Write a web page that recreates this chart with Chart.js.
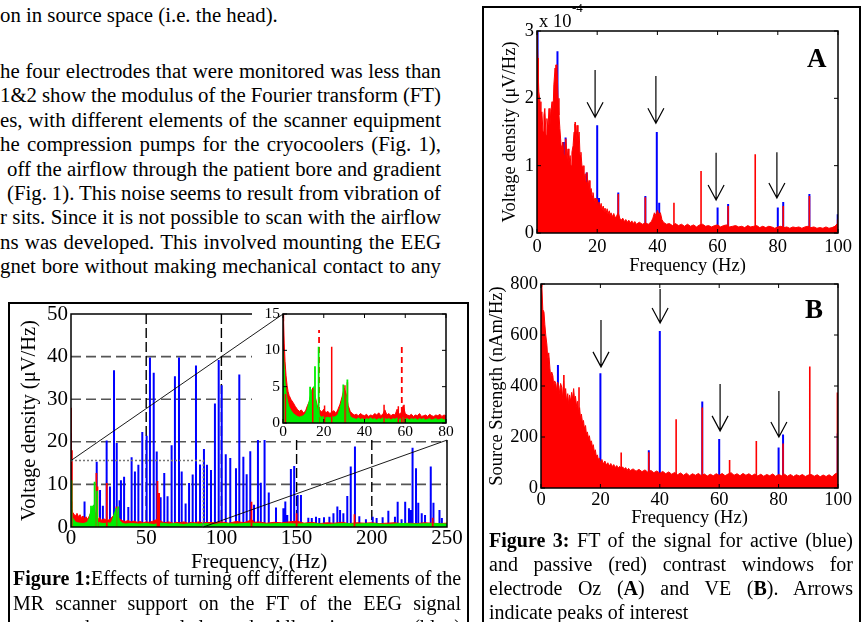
<!DOCTYPE html>
<html><head><meta charset="utf-8">
<script src="https://cdn.jsdelivr.net/npm/chart.js@4.4.1/dist/chart.umd.min.js"></script>
<style>
html,body{margin:0;padding:0;background:#fff;}
body{width:867px;height:622px;overflow:hidden;position:relative;font-family:'Liberation Serif','Times New Roman',serif;color:#000;}
.ln{position:absolute;white-space:nowrap;}
.body{font-size:20.8px;line-height:24px;}
.cap{font-size:20px;line-height:24px;}
canvas{position:absolute;}
.box{position:absolute;border:2px solid #000;box-sizing:border-box;background:#fff;}
</style></head><body>

<div class="ln body" style="top:3px;left:0">on in source space (i.e. the head).</div>
<div class="ln body j" data-w="441" style="top:59px;left:0"><span>he four electrodes that were monitored was less than</span></div>
<div class="ln body j" data-w="441" style="top:83px;left:0"><span>1&amp;2 show the modulus of the Fourier transform (FT)</span></div>
<div class="ln body j" data-w="441" style="top:108px;left:0"><span>es, with different elements of the scanner equipment</span></div>
<div class="ln body j" data-w="441" style="top:132px;left:0"><span>he compression pumps for the cryocoolers (Fig. 1),</span></div>
<div class="ln body j" data-w="434" style="top:157px;left:7px"><span>off the airflow through the patient bore and gradient</span></div>
<div class="ln body j" data-w="434" style="top:181px;left:7px"><span>(Fig. 1). This noise seems to result from vibration of</span></div>
<div class="ln body j" data-w="441" style="top:205px;left:0"><span>r sits. Since it is not possible to scan with the airflow</span></div>
<div class="ln body j" data-w="441" style="top:230px;left:0"><span>ns was developed. This involved mounting the EEG</span></div>
<div class="ln body j" data-w="441" style="top:254px;left:0"><span>gnet bore without making mechanical contact to any</span></div>

<div class="box" style="left:8px;top:302px;width:461px;height:340px;"></div>
<div class="box" style="left:482px;top:6px;width:379px;height:640px;"></div>

<canvas id="c1" width="456" height="274" style="left:10px;top:300px"></canvas>
<canvas id="c2" width="208" height="136" style="left:252px;top:304px"></canvas>
<canvas id="c3" width="372" height="270" style="left:486px;top:6px"></canvas>
<canvas id="c4" width="372" height="256" style="left:486px;top:274px"></canvas>

<div class="ln" style="left:539px;top:11px;font-size:18.5px;line-height:20px;">x 10</div>
<div class="ln" style="left:572px;top:1px;font-size:13px;line-height:14px;">-4</div>
<div class="ln" style="left:807px;top:44px;font-size:27px;line-height:28px;font-weight:bold;">A</div>
<div class="ln" style="left:805px;top:295px;font-size:27px;line-height:28px;font-weight:bold;">B</div>

<div class="ln cap j" data-w="448" style="top:566px;left:13px"><span><b>Figure 1:</b>Effects of turning off different elements of the</span></div>
<div class="ln cap j" data-w="448" style="top:591px;left:13px"><span>MR scanner support on the FT of the EEG signal</span></div>
<div class="ln cap j" data-w="448" style="top:615px;left:13px"><span>measured on a central electrode. All equipment on (blue)</span></div>

<div class="ln cap j" data-w="364" style="top:528px;left:489px"><span><b>Figure 3:</b> FT of the signal for active (blue)</span></div>
<div class="ln cap j" data-w="364" style="top:552px;left:489px"><span>and passive (red) contrast windows for</span></div>
<div class="ln cap j" data-w="364" style="top:576px;left:489px"><span>electrode Oz (<b>A</b>) and VE (<b>B</b>). Arrows</span></div>
<div class="ln cap" style="top:600px;left:489px">indicate peaks of interest</div>

<script>
// ---------------- DATA ----------------
// Figure 1 main panel (Hz, µV/Hz)
const fig1XTicks = [0, 50, 100, 150, 200, 250];
const fig1YTicks = [0, 10, 20, 30, 40, 50];
const fig1BlueSpikes = [[0,22],[9,6.0],[17.1,15.3],[19.3,8.7],[21.2,5.0],[23.7,20.3],[25.9,9.5],[28.6,36.8],[30.4,19.7],[32.3,6.3],[33.2,11.0],[35.3,11.8],[38.1,4.7],[40.3,16.4],[42.5,13.0],[44.8,14.6],[47.4,22.3],[50.3,21.4],[52.5,39.8],[55.0,36.2],[57.0,17.7],[59.6,7.0],[62.0,12.7],[64.2,7.2],[66.9,19.2],[69.1,35.4],[71.8,39.8],[73.6,13.0],[76.2,5.5],[78.5,10.3],[80.9,12.3],[83.1,37.9],[85.8,14.7],[88.4,18.3],[90.4,14.6],[93.1,13.4],[95.7,29.0],[98.2,39.2],[100.2,33.3],[102.9,17.1],[105.9,16.2],[109.7,13.8],[111.9,35.8],[114.6,16.5],[116.8,12.4],[119.2,17.8],[121.7,5.2],[124.3,20.6],[126.2,10.4],[128.7,20.6],[131.5,8.1],[136.3,4.6],[141.2,4.4],[142.5,6.0],[143.8,2.8],[146.2,13.6],[148.4,14.3],[150.7,7.5],[152.9,7.5],[157.8,2.2],[160.1,2.1],[162.9,2.4],[165.1,2.1],[168.2,2.3],[171.8,2.4],[174.5,3.2],[177.1,4.8],[178.9,4.0],[181.1,3.2],[183.7,7.3],[186.0,14.2],[188.8,18.9],[191.7,2.5],[196.1,1.8],[200.6,2.4],[203.2,2.1],[207.2,2.3],[211.0,3.8],[215.4,2.4],[217.2,5.9],[219.8,1.8],[222.2,5.9],[224.7,4.4],[225.8,4.0],[227.1,18.6],[229.4,13.8],[230.9,5.7],[233.2,3.2],[235.4,2.8],[239.2,14.2],[241.0,5.7],[245.0,4.0],[246.6,2.1]];
const fig1RedSpikes = [[0,28],[0.6,18],[16.9,12.7],[17.6,9.5],[23.8,10.3],[30.2,4.8],[57.5,10.8],[58.6,8.0],[120,5.9],[150,3.2],[188.5,3.0],[240.5,2.2]];
const fig1GreenSpikes = [[0.3,11],[13.3,5.0],[15.7,10.6],[17.4,8.5],[29.8,4.4],[31.5,4.8]];
const fig1RedFloor = [[0,6],[0.5,4.5],[1,3.5],[2,3.0],[3,2.6],[4,3.2],[5,2.4],[6,2.9],[7,2.2],[8,2.6],[9,2.0],[10,2.4],[11,1.8],[12,2.5],[13,3.2],[14,3.8],[15,3.3],[16,2.6],[17,2.0],[18,1.8],[19,2.2],[20,1.6],[22,1.9],[24,1.5],[26,1.8],[28,2.6],[30,3.4],[32,2.0],[34,1.5],[36,1.3],[38,1.5],[40,1.2],[42,1.4],[44,1.1],[46,1.3],[48,1.0],[50,1.2],[52,1.1],[54,1.3],[56,1.6],[58,1.9],[60,1.3],[62,1.0],[65,1.2],[68,0.9],[70,1.1],[72,1.0],[75,1.2],[78,0.9],[80,1.1],[82,1.0],[85,1.2],[88,0.9],[90,1.1],[95,1.0],[100,1.2],[105,0.9],[110,1.3],[115,1.0],[118,1.4],[120,1.8],[122,1.1],[125,1.2],[130,0.9],[135,1.1],[140,1.0],[145,1.2],[150,1.4],[155,0.9],[160,1.1],[165,0.8],[170,1.0],[175,0.9],[180,1.1],[185,0.8],[190,1.0],[195,0.9],[200,1.0],[205,0.8],[210,0.9],[215,1.0],[220,0.8],[225,0.9],[230,0.8],[235,1.0],[240,0.9],[245,0.8],[250,0.9]];
const fig1GreenFloor = [[0,4],[0.5,3],[1,2.2],[2,1.6],[3,1.2],[4,1.0],[6,0.9],[8,0.8],[10,1.0],[11,1.3],[12,2.0],[13,3.5],[14,4.6],[15,5.2],[16,3.6],[17,1.8],[18,1.1],[20,0.9],[22,0.8],[24,1.0],[26,0.9],[27,1.2],[28,2.2],[29,3.4],[30,4.0],[31,3.2],[32,1.6],[34,0.9],[36,0.7],[40,0.8],[45,0.7],[50,0.8],[55,0.6],[60,0.9],[65,0.7],[70,0.8],[75,0.6],[80,0.8],[85,0.7],[90,0.8],[95,0.6],[100,0.8],[110,0.7],[120,0.9],[130,0.7],[140,0.8],[150,0.7],[160,0.8],[170,0.6],[180,0.8],[190,0.7],[200,0.8],[210,0.6],[220,0.8],[230,0.7],[240,0.8],[250,0.7]];
// zoom box and connector lines (data coords of main panel)
const fig1ZoomBox = [[0,0],[88,15.6]];
const fig1Connectors = [[[0,15.6],[141,50]],[[88,0],[250,20.4]]];

// Figure 1 inset (0-80 Hz)
const insetXTicks = [0, 20, 40, 60, 80];
const insetYTicks = [0, 5, 10, 15];
const insetRedFloor = [[0,15],[0.3,14],[0.6,11],[1,8.5],[1.5,6.5],[2,5.2],[2.5,4.3],[3,3.8],[4,3.2],[5,2.8],[6,2.3],[7,1.9],[8,1.6],[9,1.8],[10,1.4],[11,1.6],[12,2.4],[13,3.0],[14,4.2],[15,4.6],[16,3.4],[17,2.2],[18,1.8],[19,1.5],[20,1.9],[21,1.4],[22,1.6],[23,1.3],[24,1.5],[25,1.7],[26,1.3],[27,1.9],[28,2.6],[29,3.6],[30,4.8],[31,4.0],[32,2.4],[33,1.6],[34,1.3],[35,1.1],[36,1.2],[37,1.0],[38,1.3],[39,1.1],[40,1.0],[41,1.2],[42,0.9],[43,1.1],[44,1.0],[45,1.3],[46,1.1],[47,1.4],[48,1.0],[49,1.2],[50,1.8],[51,1.1],[52,1.3],[53,1.0],[54,1.2],[55,1.1],[56,1.9],[57,1.2],[58,1.4],[59,2.4],[60,1.3],[61,1.1],[62,1.0],[63,1.2],[64,0.9],[65,1.1],[66,1.0],[67,1.3],[68,0.9],[69,1.0],[70,1.1],[71,0.9],[72,1.2],[73,1.0],[74,0.9],[75,1.1],[76,1.0],[77,1.2],[78,0.9],[79,1.1],[80,1.0]];
const insetGreenFloor = [[0,10],[0.3,10],[0.6,7.5],[1,5.5],[1.5,4.2],[2,3.3],[2.5,2.7],[3,2.2],[4,1.7],[5,1.3],[6,1.1],[7,0.9],[8,0.8],[9,0.9],[10,1.0],[11,1.3],[12,1.9],[13,3.2],[14,4.5],[15,5.0],[16,3.2],[17,1.6],[18,1.0],[19,0.8],[20,0.9],[21,0.7],[22,0.8],[23,0.7],[24,0.9],[25,0.8],[26,0.9],[27,1.2],[28,2.0],[29,3.2],[30,4.2],[31,3.6],[32,1.8],[33,0.9],[34,0.7],[35,0.6],[36,0.5],[37,0.7],[38,0.5],[39,0.6],[40,0.4],[41,0.6],[42,0.5],[43,0.7],[44,0.5],[45,0.6],[46,0.4],[47,0.6],[48,0.5],[49,0.7],[50,0.6],[51,0.5],[52,0.6],[53,0.4],[54,0.6],[55,0.5],[56,0.7],[57,0.5],[58,0.6],[59,0.8],[60,0.5],[61,0.6],[62,0.4],[63,0.6],[64,0.5],[65,0.6],[66,0.4],[67,0.6],[68,0.5],[69,0.6],[70,0.4],[71,0.5],[72,0.6],[73,0.4],[74,0.5],[75,0.6],[76,0.4],[77,0.5],[78,0.6],[79,0.4],[80,0.5]];
const insetRedSpikes = [[1.2,4.0],[14.6,4.8],[20.4,2.4],[23.9,10.5],[30.4,5.2],[31.6,5.6],[49.6,2.5],[56.6,2.3],[59.4,2.5]];
const insetRedDashedSpikes = [[17.7,12.8],[58.3,10.7]];
const insetGreenSpikes = [[13.3,5.0],[15.7,7.8],[17.5,10.5],[29.6,5.3],[31.6,6.0]];

// Figure 3A (Oz electrode, units of 1e-4 µV/Hz)
const fig3aXTicks = [0, 20, 40, 60, 80, 100];
const fig3aYTicks = [0, 1, 2, 3];
const fig3aRedFloor = [[0,3.0],[0.3,3.0],[0.6,2.1],[1,1.95],[1.3,1.6],[1.6,1.8],[2,1.5],[2.3,1.75],[2.6,1.85],[3,1.45],[3.3,1.7],[3.6,1.55],[4,1.85],[4.3,1.6],[4.6,1.8],[5,1.95],[5.3,1.75],[5.6,2.2],[6,2.45],[6.3,2.3],[6.6,2.5],[7,2.0],[7.3,1.75],[7.6,1.55],[8,1.3],[8.3,1.2],[8.6,1.35],[9,1.15],[9.3,1.3],[9.6,1.4],[10,1.1],[10.3,1.25],[10.6,1.05],[11,1.15],[11.3,1.0],[11.6,1.2],[12,1.3],[12.3,1.5],[12.6,1.62],[13,1.4],[13.3,1.6],[13.6,1.35],[14,1.5],[14.3,1.15],[14.6,1.2],[15,0.95],[15.3,1.0],[15.6,0.8],[16,0.88],[16.3,0.75],[16.6,0.9],[17,0.7],[17.3,0.78],[17.6,0.62],[18,0.66],[18.3,0.55],[18.6,0.6],[19,0.48],[19.3,0.52],[19.6,0.44],[20,0.5],[20.3,0.4],[20.6,0.46],[21,0.38],[21.3,0.44],[21.6,0.35],[22,0.4],[22.3,0.32],[22.6,0.37],[23,0.3],[23.3,0.36],[23.6,0.28],[24,0.33],[24.3,0.26],[24.6,0.3],[25,0.24],[25.5,0.29],[26,0.22],[26.5,0.26],[27,0.3],[27.5,0.22],[28,0.19],[28.5,0.22],[29,0.17],[29.5,0.2],[30,0.16],[30.5,0.19],[31,0.15],[31.5,0.18],[32,0.14],[32.5,0.17],[33,0.13],[34,0.16],[35,0.13],[36,0.15],[37,0.13],[38,0.17],[38.5,0.22],[39,0.3],[39.5,0.26],[40,0.34],[40.5,0.28],[41,0.3],[41.5,0.2],[42,0.16],[43,0.13],[44,0.14],[45,0.11],[46,0.14],[47,0.11],[48,0.13],[49,0.1],[50,0.13],[51,0.1],[52,0.12],[53,0.09],[54,0.12],[55,0.13],[56,0.1],[57,0.11],[58,0.09],[59,0.11],[60,0.12],[61,0.09],[62,0.11],[63,0.12],[64,0.09],[65,0.1],[66,0.11],[67,0.09],[68,0.1],[69,0.08],[70,0.11],[71,0.09],[72,0.1],[73,0.11],[74,0.08],[75,0.1],[76,0.08],[77,0.1],[78,0.09],[79,0.07],[80,0.09],[81,0.1],[82,0.08],[83,0.09],[84,0.07],[85,0.09],[86,0.08],[87,0.09],[88,0.07],[89,0.09],[90,0.1],[91,0.08],[92,0.09],[93,0.07],[94,0.08],[95,0.07],[96,0.09],[97,0.07],[98,0.08],[99,0.1],[100,0.15]];
const fig3aRedSpikes = [[0,3.0],[0.4,2.6],[6.3,2.5],[12.7,1.65],[27,0.58],[36,0.53],[45.5,0.45],[54.5,0.92],[63.5,0.4],[72.5,1.17],[81.8,0.4],[90.5,0.55],[99.9,0.2]];
const fig3aBlueSpikes = [[0.2,3.0],[6.8,2.7],[8.8,1.35],[9.5,1.42],[16.5,0.9],[20,1.6],[20.6,0.52],[27,0.6],[36,0.55],[39.8,1.5],[40.6,0.45],[60,0.38],[63.5,0.43],[80,0.38],[81.8,0.46],[90.5,0.58],[99.9,0.28]];
const fig3aArrows = [[19.3,2.42,1.72],[39.5,2.33,1.63],[59.5,1.19,0.49],[79.7,1.20,0.52]];

// Figure 3B (virtual electrode, nAm/Hz)
const fig3bXTicks = [0, 20, 40, 60, 80, 100];
const fig3bYTicks = [0, 200, 400, 600, 800];
const fig3bRedFloor = [[0,800],[0.3,790],[0.6,700],[1,690],[1.3,640],[1.6,600],[2,560],[2.3,500],[2.6,530],[3,470],[3.3,430],[3.6,455],[4,440],[4.3,400],[4.6,420],[5,410],[5.3,380],[5.6,415],[6,400],[6.3,370],[6.6,410],[7,395],[7.3,350],[7.6,420],[8,360],[8.3,390],[8.6,340],[9,370],[9.3,330],[9.6,365],[10,340],[10.3,375],[10.6,350],[11,390],[11.3,345],[11.6,360],[12,320],[12.3,340],[12.6,300],[13,315],[13.3,275],[13.6,290],[14,255],[14.3,265],[14.6,235],[15,245],[15.3,210],[15.6,220],[16,195],[16.3,205],[16.6,180],[17,185],[17.3,160],[17.6,170],[18,140],[18.3,150],[18.6,125],[19,130],[19.3,110],[19.6,118],[20,100],[20.5,112],[21,94],[21.5,106],[22,90],[22.5,99],[23,86],[23.5,96],[24,84],[24.5,92],[25,80],[25.5,88],[26,78],[26.5,85],[27,76],[27.5,83],[28,74],[28.5,80],[29,70],[29.5,77],[30,68],[31,75],[32,66],[33,73],[34,64],[35,71],[36,62],[37,69],[38,60],[39,67],[40,58],[41,65],[42,56],[43,63],[44,54],[45,61],[46,52],[47,59],[48,50],[49,58],[50,48],[51,56],[52,50],[53,57],[54,48],[55,55],[56,47],[57,54],[58,48],[59,56],[60,50],[61,57],[62,48],[63,55],[64,60],[65,50],[66,56],[67,48],[68,57],[69,50],[70,56],[71,48],[72,55],[73,47],[74,54],[75,46],[76,53],[77,48],[78,55],[79,46],[80,53],[81,48],[82,54],[83,46],[84,53],[85,45],[86,52],[87,47],[88,53],[89,45],[90,51],[91,53],[92,46],[93,52],[94,44],[95,51],[96,45],[97,52],[98,44],[99,55],[100,60]];
const fig3bRedSpikes = [[0,800],[7.7,443],[12.8,395],[27,139],[36.3,140],[45.5,270],[54.3,316],[63.5,110],[72.5,184],[81.5,175],[90.5,476],[99.8,375]];
const fig3bBlueSpikes = [[2.4,510],[5.7,482],[20,450],[36.3,148],[40,616],[54.3,339],[60,192],[80,159],[81.5,210],[99.9,214]];
const fig3bArrows = [[20.2,659,475],[40.1,780,647],[60.3,408,224],[80.1,380,200]];

// ---------------- HELPERS ----------------
const SERIF = "'Liberation Serif','Times New Roman',serif";
const BLUE = '#0000ff', RED = '#ff0000', GREEN = '#00ee00';
Chart.defaults.font.family = SERIF;
Chart.defaults.color = '#000';

function pts(pairs){ return pairs.map(p => ({x:p[0], y:p[1]})); }
function spikes(pairs){ const o=[]; pairs.forEach(p => { o.push({x:p[0],y:0},{x:p[0],y:p[1]},{x:p[0],y:null}); }); return o; }
function fixAxis(size){ return function(s){ if (s.isHorizontal()) s.height = size; else s.width = size; s.paddingLeft=0; s.paddingRight=0; s.paddingTop=0; s.paddingBottom=0; }; }
function tickCb(list){ return function(scale){ scale.ticks = list.map(v => ({value:v})); }; }

function floorDs(pairs, color, order){ return {type:'line', data:pts(pairs), borderColor:color, backgroundColor:color, fill:'origin', borderWidth:1, order:order}; }
function spikeDs(pairs, color, width, order, dash){ return {type:'line', data:spikes(pairs), borderColor:color, borderWidth:width, fill:false, order:order, borderDash: dash || []}; }

function axisX(min, max, ticks, fontSize, pad, height, title, titlePadB){
  return {type:'linear', min:min, max:max, afterBuildTicks:tickCb(ticks),
    ticks:{padding:pad, color:'#000', font:{family:SERIF,size:fontSize,lineHeight:1}, maxRotation:0, minRotation:0, autoSkip:false},
    grid:{display:false, drawTicks:false}, border:{display:false},
    title: title ? {display:true, text:title, color:'#000', font:{family:SERIF,size:fontSize,lineHeight:1}, padding:{top:0,bottom:titlePadB}} : {display:false},
    afterFit:fixAxis(height)};
}
function axisY(min, max, ticks, fontSize, pad, width, title, titlePadT, titleSize){
  return {type:'linear', min:min, max:max, stacked:false, afterBuildTicks:tickCb(ticks),
    ticks:{padding:pad, color:'#000', font:{family:SERIF,size:fontSize,lineHeight:1}, autoSkip:false},
    grid:{display:false, drawTicks:false}, border:{display:false},
    title: title ? {display:true, text:title, color:'#000', font:{family:SERIF,size:titleSize||fontSize,lineHeight:1}, padding:{top:titlePadT,bottom:0}} : {display:false},
    afterFit:fixAxis(width)};
}
function baseOpts(padding, scales){
  return {responsive:false, animation:false, devicePixelRatio:1, events:[],
    layout:{padding:padding},
    elements:{point:{radius:0, hoverRadius:0}, line:{tension:0}},
    plugins:{legend:{display:false}, tooltip:{enabled:false}},
    scales:scales};
}
function framePlugin(lw, tickLen){
  return {id:'frame', afterDatasetsDraw(chart){
    const {ctx, chartArea:a, scales:{x,y}} = chart;
    ctx.save(); ctx.strokeStyle='#000'; ctx.lineWidth=lw; ctx.setLineDash([]);
    ctx.strokeRect(a.left, a.top, a.right-a.left, a.bottom-a.top);
    if (tickLen){
      ctx.lineWidth=1; ctx.beginPath();
      x.ticks.forEach(t => { const px=x.getPixelForValue(t.value); ctx.moveTo(px,a.bottom); ctx.lineTo(px,a.bottom-tickLen); ctx.moveTo(px,a.top); ctx.lineTo(px,a.top+tickLen); });
      y.ticks.forEach(t => { const py=y.getPixelForValue(t.value); ctx.moveTo(a.left,py); ctx.lineTo(a.left+tickLen,py); ctx.moveTo(a.right,py); ctx.lineTo(a.right-tickLen,py); });
      ctx.stroke();
    }
    ctx.restore();
  }};
}
function arrowPlugin(list){
  return {id:'arrows', afterDatasetsDraw(chart){
    const {ctx, scales:{x,y}} = chart;
    ctx.save(); ctx.strokeStyle='#000'; ctx.lineWidth=1.2;
    list.forEach(a => {
      const px=x.getPixelForValue(a[0]), t=y.getPixelForValue(a[1]), b=y.getPixelForValue(a[2]);
      ctx.beginPath(); ctx.moveTo(px,t); ctx.lineTo(px,b);
      ctx.moveTo(px-8,b-15); ctx.lineTo(px,b); ctx.lineTo(px+8,b-15); ctx.stroke();
    });
    ctx.restore();
  }};
}
function drawConnectors(ctx, mainChart, dx, dy){
  const x = mainChart.scales.x, y = mainChart.scales.y;
  ctx.save(); ctx.strokeStyle='#000'; ctx.lineWidth=0.9; ctx.setLineDash([]);
  fig1Connectors.forEach(seg => {
    ctx.beginPath();
    ctx.moveTo(x.getPixelForValue(seg[0][0])+dx, y.getPixelForValue(seg[0][1])+dy);
    ctx.lineTo(x.getPixelForValue(seg[1][0])+dx, y.getPixelForValue(seg[1][1])+dy);
    ctx.stroke();
  });
  ctx.restore();
}

// ---------------- FIGURE 1 MAIN ----------------
const gridPlugin1 = {id:'grid1', beforeDatasetsDraw(chart){
  const {ctx, chartArea:a, scales:{x,y}} = chart;
  ctx.save();
  ctx.lineWidth=1.6; ctx.strokeStyle='#555'; ctx.setLineDash([10,5]);
  y.ticks.forEach(t => { if (t.value<=y.min || t.value>=y.max) return; const py=y.getPixelForValue(t.value);
    ctx.beginPath(); ctx.moveTo(a.left,py); ctx.lineTo(a.right,py); ctx.stroke(); });
  ctx.lineWidth=1.4; ctx.strokeStyle='#000'; ctx.setLineDash([10,4]);
  x.ticks.forEach(t => { if (t.value<=x.min || t.value>=x.max) return; const px=x.getPixelForValue(t.value);
    ctx.beginPath(); ctx.moveTo(px,a.top); ctx.lineTo(px,a.bottom); ctx.stroke(); });
  ctx.restore();
}};
const overlayPlugin1 = {id:'overlay1', afterDatasetsDraw(chart){
  const {ctx, scales:{x,y}} = chart;
  ctx.save(); ctx.strokeStyle='#777'; ctx.lineWidth=1.5; ctx.setLineDash([2,2]);
  const x0=x.getPixelForValue(fig1ZoomBox[0][0]), y0=y.getPixelForValue(fig1ZoomBox[0][1]);
  const x1=x.getPixelForValue(fig1ZoomBox[1][0]), y1=y.getPixelForValue(fig1ZoomBox[1][1]);
  ctx.beginPath(); ctx.moveTo(x0,y1); ctx.lineTo(x1,y1); ctx.lineTo(x1,y0); ctx.stroke();
  ctx.restore();
  drawConnectors(ctx, chart, 0, 0);
}};
const ch1 = new Chart(document.getElementById('c1'), {
  type:'line',
  data:{datasets:[
    spikeDs(fig1BlueSpikes, BLUE, 2, 6),
    floorDs(fig1RedFloor, RED, 5),
    floorDs(fig1GreenFloor, GREEN, 4),
    spikeDs(fig1RedSpikes, RED, 1.8, 3),
    spikeDs(fig1GreenSpikes, GREEN, 1.8, 2)
  ]},
  options: baseOpts({left:0,top:14,right:19,bottom:0}, {
    x: axisX(0, 250, fig1XTicks, 21, 1, 47, 'Frequency, (Hz)', 1.5),
    y: axisY(0, 50, fig1YTicks, 21, 3, 61, 'Voltage density (\u03BCV/Hz)', 9.5, 20.5)
  }),
  plugins:[gridPlugin1, framePlugin(1.5, 0), overlayPlugin1]
});

// ---------------- FIGURE 1 INSET ----------------
const c2 = document.getElementById('c2'), c1 = document.getElementById('c1');
const insetBg = {id:'insetBg', beforeDraw(chart){ const ctx=chart.ctx; ctx.save(); ctx.fillStyle='#fff'; ctx.fillRect(0,0,chart.width,chart.height); ctx.restore(); }};
const insetConn = {id:'insetConn', afterDraw(chart){
  drawConnectors(chart.ctx, ch1, c1.offsetLeft - c2.offsetLeft, c1.offsetTop - c2.offsetTop);
}};
new Chart(c2, {
  type:'line',
  data:{datasets:[
    floorDs(insetRedFloor, RED, 5),
    floorDs(insetGreenFloor, GREEN, 4),
    spikeDs(insetRedSpikes, RED, 1.5, 3),
    spikeDs(insetRedDashedSpikes, RED, 1.8, 2, [6,4]),
    spikeDs(insetGreenSpikes, GREEN, 1.8, 1)
  ]},
  options: baseOpts({left:0,top:10,right:14,bottom:0}, {
    x: axisX(0, 80, insetXTicks, 15.5, 1.2, 17, null, 0),
    y: axisY(0, 15, insetYTicks, 15.5, 3, 31, null, 0)
  }),
  plugins:[insetBg, framePlugin(1.5, 4), insetConn]
});

// ---------------- FIGURE 3A ----------------
new Chart(document.getElementById('c3'), {
  type:'line',
  data:{datasets:[
    spikeDs(fig3aBlueSpikes, BLUE, 2, 3),
    floorDs(fig3aRedFloor, RED, 2),
    spikeDs(fig3aRedSpikes, RED, 1.6, 1)
  ]},
  options: baseOpts({left:0,top:25,right:20,bottom:0}, {
    x: axisX(0, 100, fig3aXTicks, 18.5, 5, 43, 'Frequency (Hz)', 0.75),
    y: axisY(0, 3, fig3aYTicks, 18.5, 3, 51, 'Voltage density (\u03BCV/Hz)', 14.5)
  }),
  plugins:[framePlugin(1.5, 4), arrowPlugin(fig3aArrows)]
});

// ---------------- FIGURE 3B ----------------
new Chart(document.getElementById('c4'), {
  type:'line',
  data:{datasets:[
    spikeDs(fig3bBlueSpikes, BLUE, 2, 3),
    floorDs(fig3bRedFloor, RED, 2),
    spikeDs(fig3bRedSpikes, RED, 1.6, 1)
  ]},
  options: baseOpts({left:0,top:10,right:20,bottom:0}, {
    x: axisX(0, 100, fig3bXTicks, 18.5, 3, 42, 'Frequency (Hz)', 2.75),
    y: axisY(0, 800, fig3bYTicks, 18.5, 3, 55, 'Source Strength (nAm/Hz)', 1.75)
  }),
  plugins:[framePlugin(1.5, 4), arrowPlugin(fig3bArrows)]
});

// ---------------- justify text lines ----------------
document.querySelectorAll('.j').forEach(el => {
  const w = parseFloat(el.dataset.w);
  const span = el.firstElementChild;
  const nat = span.getBoundingClientRect().width;
  const spaces = (span.textContent.match(/ /g) || []).length;
  if (spaces) span.style.wordSpacing = ((w - nat) / spaces) + 'px';
});
</script>
</body></html>
